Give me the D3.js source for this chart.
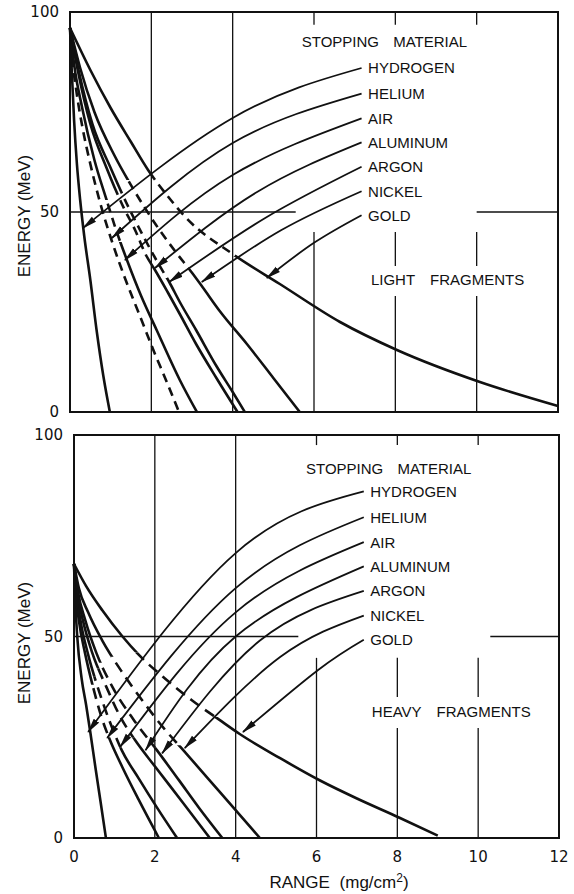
<!DOCTYPE html>
<html lang="en">
<head>
<meta charset="UTF-8">
<title>Energy vs range of fission fragments</title>
<script src="https://cdn.jsdelivr.net/npm/d3@7"></script>
<style>
  body { margin: 0; background: #fff; }
  text { font-family: "Liberation Sans", Arial, sans-serif; fill: #111; }
  .tick { font-family: "DejaVu Sans", sans-serif; font-size: 15px; }
</style>
</head>
<body>
<div id="container"></div>
<script>
const xTicks = [0, 2, 4, 6, 8, 10, 12];
const yTicks = [0, 50, 100];
const materials = ["HYDROGEN", "HELIUM", "AIR", "ALUMINUM", "ARGON", "NICKEL", "GOLD"];
const labelEnergy = [86, 79.6, 73.4, 67.4, 61.3, 55.2, 49.2];
const labelRange = 7.33;

// light fragments, [range mg/cm2, energy MeV]
const lightHydrogen = [[0,96],[0.04,86],[0.1,73],[0.17,62],[0.25,53],[0.35,44],[0.5,33],[0.66,20],[0.82,9],[0.98,0]];
const lightHelium = [[0,96],[0.06,88],[0.16,80],[0.3,71.5],[0.5,62],[0.75,52],[1.02,43],[1.35,33.5],[1.7,24.5],[2.05,15.5],[2.38,7.5],[2.68,0]];
const lightAir = [[0,96],[0.1,87],[0.3,76],[0.6,63],[0.9,53],[1.15,45],[1.4,38],[1.75,29],[2.13,20.5],[2.7,8],[3.12,0]];
const lightAluminum = [[0,96],[0.2,85],[0.5,72],[0.9,61],[1.3,51.5],[1.6,45.5],[1.88,39],[2.09,35.5],[2.4,30],[2.7,24.5],[3.1,17],[3.6,8.5],[4.12,0]];
const lightArgon = [[0,96],[0.22,85],[0.55,72],[1.0,61],[1.4,52],[1.8,44],[2.15,37.5],[2.44,32.5],[2.7,27.5],[3.1,20.5],[3.6,11.5],[4.0,5],[4.3,0]];
const lightNickel = [[0,96],[0.25,86],[0.6,75],[1.1,64],[1.6,55],[2.1,47],[2.6,40],[3.0,34.8],[3.24,31.5],[3.7,25],[4.35,17],[5.0,8.5],[5.65,0]];
const lightGold = [[0,96],[0.5,85.5],[1.0,76],[1.5,67.5],[1.92,60.5],[2.4,54],[2.83,48.8],[4.0,39.5],[5.16,32],[6.64,22.5],[8.04,15.5],[10.08,7.5],[12,1.5]];
const lightCurves = [lightHydrogen, lightHelium, lightAir, lightAluminum, lightArgon, lightNickel, lightGold];
// energy band [upper, lower] drawn dashed
const lightDashed = [null, [88, -5], [53, 42.5], [56, 39], [56, 33.5], [58, 35], [59, 39]];
// arrow from label: one point along the arc, then the tip
const lightArrows = [
  [[4.0,73.5],[0.32,46]],
  [[4.0,67.25],[1.03,43.5]],
  [[4.0,59.25],[1.35,38]],
  [[4.6,55],[2.09,36]],
  [[4.8,48.5],[2.44,32.5]],
  [[5.2,45.5],[3.24,32.5]],
  [[6.0,42.3],[4.84,33.5]]
];

// heavy fragments
const heavyHydrogen = [[0,68],[0.03,59],[0.08,50],[0.19,39.5],[0.3,33],[0.4,26.5],[0.53,17.5],[0.66,8.8],[0.79,0]];
const heavyHelium = [[0,68],[0.04,61],[0.12,54],[0.27,46],[0.47,37.5],[0.68,30],[0.89,24.3],[1.2,17.5],[1.6,9.5],[2.1,0]];
const heavyAir = [[0,68],[0.06,61],[0.16,54],[0.35,45.5],[0.6,37],[0.88,29],[1.18,21.8],[1.6,14.8],[2.05,7.6],[2.55,0]];
const heavyAluminum = [[0,68],[0.08,61],[0.22,54],[0.45,46],[0.8,37.5],[1.15,30],[1.51,24.3],[2.0,17.8],[2.7,8.7],[3.36,0]];
const heavyArgon = [[0,68],[0.1,61],[0.28,54],[0.55,46],[0.95,37.5],[1.5,29],[2.05,21.8],[2.6,14.3],[3.1,7.4],[3.67,0]];
const heavyNickel = [[0,68],[0.12,62],[0.35,56],[0.7,49],[1.2,41],[1.7,34],[2.2,27.5],[2.66,22.3],[3.6,11.5],[4.6,0]];
const heavyGold = [[0,68],[0.3,62.5],[0.7,56.5],[1.2,50],[1.6,45.5],[2.2,40],[2.9,34.3],[3.6,29.3],[4.1,25.8],[5.1,19.8],[6.1,14.2],[7.0,9.8],[8.04,5.1],[9.0,0.6]];
const heavyCurves = [heavyHydrogen, heavyHelium, heavyAir, heavyAluminum, heavyArgon, heavyNickel, heavyGold];
const heavyDashed = [null, [38, 25], [40, 22.5], [42, 25], [43.5, 22.5], [45, 23], [46, 30]];
const heavyArrows = [
  [[4.0,70.7],[0.35,26.3]],
  [[4.0,62],[0.82,24.8]],
  [[4.0,56],[1.14,22.6]],
  [[4.0,50],[1.77,21.8]],
  [[4.6,49],[2.18,21]],
  [[5.1,44.9],[2.74,22.3]],
  [[6.04,41.7],[4.18,26.3]]
];

const width = 574;
const height = 894;
const ink = "#111";

const panels = [
  { id: "light", title: "LIGHT FRAGMENTS", titleAt: [7.4, 33], headAt: [5.7, 92.6],
    xRange: [70, 558], yRange: [412, 12], curves: lightCurves, bands: lightDashed, arrows: lightArrows,
    fiftyRight: 10, gridTop: 96.8, gridLower: 45, gap: [36.5, 29], dash: "9,6", axisMid: 216 },
  { id: "heavy", title: "HEAVY FRAGMENTS", titleAt: [7.37, 31.3], headAt: [5.74, 91.7],
    xRange: [74, 559], yRange: [838, 435], curves: heavyCurves, bands: heavyDashed, arrows: heavyArrows,
    fiftyRight: 10.3, gridTop: 97.5, gridLower: 44.7, gap: [35, 27.3], dash: "11,7", axisMid: 643 }
];

const svg = d3.create("svg").attr("width", width).attr("height", height);
svg.append("rect").attr("width", width).attr("height", height).attr("fill", "#fff");
const defs = svg.append("defs");
defs.append("marker")
    .attr("id", "head")
    .attr("viewBox", "0 -4 15 8")
    .attr("refX", 14)
    .attr("refY", 0)
    .attr("markerWidth", 15)
    .attr("markerHeight", 8)
    .attr("markerUnits", "userSpaceOnUse")
    .attr("orient", "auto")
  .append("path")
    .attr("d", "M0,-3.3L15,0L0,3.3Z")
    .attr("fill", ink);

function drawPanel(p, last) {
  const x = d3.scaleLinear().domain([0, 12]).range(p.xRange);
  const y = d3.scaleLinear().domain([0, 100]).range(p.yRange);
  const g = svg.append("g");
  const seg = d3.line().x(d => x(d[0])).y(d => y(d[1]));

  // grid
  const grid = g.append("g").attr("stroke", ink).attr("stroke-width", 1.3).attr("fill", "none");
  [2, 4].forEach(r => grid.append("path").attr("d", seg([[r, 0], [r, 100]])));
  [6, 8, 10].forEach(r => {
    grid.append("path").attr("d", seg([[r, 100], [r, p.gridTop]]));
    if (r === 6) {
      grid.append("path").attr("d", seg([[r, p.gridLower], [r, 0]]));
    } else {
      grid.append("path").attr("d", seg([[r, p.gridLower], [r, p.gap[0]]]));
      grid.append("path").attr("d", seg([[r, p.gap[1]], [r, 0]]));
    }
  });
  grid.append("path").attr("d", seg([[0, 50], [5.55, 50]]));
  grid.append("path").attr("d", seg([[p.fiftyRight, 50], [12, 50]]));

  // frame
  g.append("rect")
      .attr("x", x(0)).attr("y", y(100))
      .attr("width", x(12) - x(0)).attr("height", y(0) - y(100))
      .attr("fill", "none").attr("stroke", ink).attr("stroke-width", 2);

  // range curves
  const curve = d3.line().x(d => x(d[0])).y(d => y(d[1])).curve(d3.curveMonotoneX);
  p.curves.forEach((pts, i) => {
    const band = p.bands[i];
    const path = () => g.append("path").attr("d", curve(pts))
        .attr("fill", "none").attr("stroke", ink).attr("stroke-width", 2.6);
    if (!band) { path(); return; }
    const solidId = `${p.id}-solid-${i}`;
    const dashId = `${p.id}-dash-${i}`;
    const cs = defs.append("clipPath").attr("id", solidId);
    cs.append("rect").attr("x", 0).attr("width", width).attr("y", 0).attr("height", y(band[0]));
    cs.append("rect").attr("x", 0).attr("width", width).attr("y", y(band[1])).attr("height", height - y(band[1]));
    const cd = defs.append("clipPath").attr("id", dashId);
    cd.append("rect").attr("x", 0).attr("width", width).attr("y", y(band[0])).attr("height", y(band[1]) - y(band[0]));
    path().attr("clip-path", `url(#${solidId})`);
    path().attr("clip-path", `url(#${dashId})`).attr("stroke-dasharray", p.dash);
  });

  // arrows from labels
  const arrowLine = d3.line().x(d => x(d[0])).y(d => y(d[1])).curve(d3.curveNatural);
  p.arrows.forEach((pts, i) => {
    const start = [labelRange - 0.16, labelEnergy[i]];
    g.append("path")
        .attr("d", arrowLine([start, ...pts]))
        .attr("fill", "none").attr("stroke", ink).attr("stroke-width", 1.8)
        .attr("marker-end", "url(#head)");
  });

  // labels
  g.append("text")
      .attr("x", x(p.headAt[0])).attr("y", y(p.headAt[1])).attr("dy", "0.36em")
      .attr("font-size", 15).attr("word-spacing", 10)
      .text("STOPPING MATERIAL");
  g.selectAll(".mat")
    .data(materials)
    .join("text")
      .attr("class", "mat")
      .attr("x", x(labelRange))
      .attr("y", (d, i) => y(labelEnergy[i]))
      .attr("dy", "0.36em")
      .attr("font-size", 15)
      .text(d => d);
  g.append("text")
      .attr("x", x(p.titleAt[0])).attr("y", y(p.titleAt[1])).attr("dy", "0.36em")
      .attr("font-size", 15).attr("word-spacing", 11)
      .text(p.title);

  // y axis labels
  g.selectAll(".ytick")
    .data(yTicks)
    .join("text")
      .attr("class", "tick")
      .attr("x", x(0) - 11)
      .attr("y", d => y(d))
      .attr("dy", "0.36em")
      .attr("text-anchor", "end")
      .text(d => d);
  g.append("text")
      .attr("transform", `translate(30,${p.axisMid}) rotate(-90)`)
      .attr("text-anchor", "middle")
      .attr("font-size", 17)
      .text("ENERGY (MeV)");

  if (last) {
    g.selectAll(".xtick")
      .data(xTicks)
      .join("text")
        .attr("class", "tick")
        .attr("x", d => x(d))
        .attr("y", 857)
        .attr("dy", "0.36em")
        .attr("text-anchor", "middle")
        .text(d => d);
    const t = g.append("text")
        .attr("x", 339).attr("y", 882).attr("dy", "0.36em")
        .attr("text-anchor", "middle").attr("font-size", 17).attr("word-spacing", 5);
    t.append("tspan").text("RANGE (mg/cm");
    t.append("tspan").attr("font-size", 12).attr("dy", "-0.5em").text("2");
    t.append("tspan").attr("dy", "0.35em").text(")");
  }
}

panels.forEach((p, i) => drawPanel(p, i === panels.length - 1));

document.getElementById("container").append(svg.node());
</script>
</body>
</html>
